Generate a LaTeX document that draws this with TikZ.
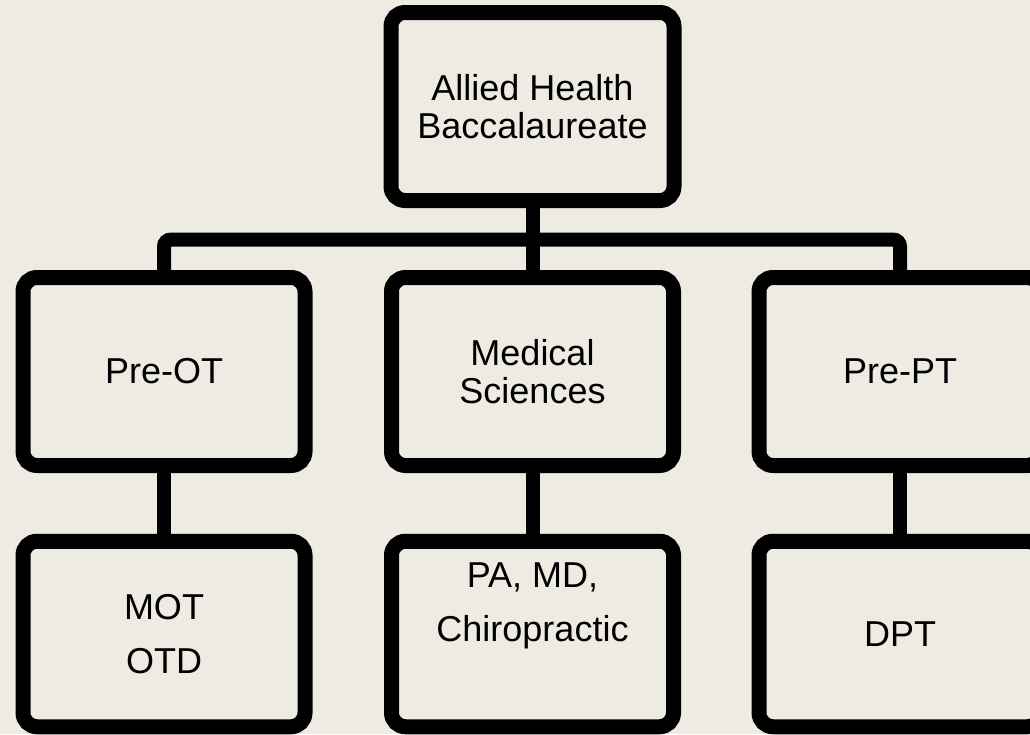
\documentclass[tikz,border=0pt]{standalone}
\usepackage{fontspec}
\setmainfont{Liberation Sans}
\definecolor{bg}{RGB}{238,235,227}
\begin{document}
\begin{tikzpicture}[x=1pt,y=-1pt,
  box/.style={draw=black, fill=bg, line width=15pt, rounded corners=14pt,
    minimum width=282pt, minimum height=188pt, inner sep=0pt, align=center,
    font=\fontsize{36}{37.5}\selectfont},
  lowbox/.style={box, minimum height=185.5pt},
  lbl/.style={inner sep=0pt, align=center, font=\fontsize{36}{54}\selectfont},
  conn/.style={draw=black, line width=14pt, rounded corners=7pt}]
\useasboundingbox (0,0) rectangle (1030,734);
\clip (0,0) rectangle (1030,734);
\fill[bg] (0,0) rectangle (1030,734);
\coordinate (bar) at (532.5,239.5);
\node[box, minimum width=283pt] (ah) at (532.5,106.5) {Allied Health\\Baccalaureate};
\node[box] (pot) at (164,371.5) {Pre-OT};
\node[box] (med) at (532.5,371.5) {Medical\\Sciences};
\node[box] (ppt) at (900,371.5) {Pre-PT};
\node[lowbox] (mot) at (164,634) {};
\node[lowbox] (pmd) at (532.5,634) {};
\node[lowbox] (dpt) at (900,634) {DPT};
\node[lbl] (motl) at (164,634) {MOT\\OTD};
\node[lbl] (pmdl) at ([yshift=28pt]pmd.center) {PA, MD,\\Chiropractic};
\draw[conn] (ah.south) -- (med.north);
\draw[conn] (pot.north) |- (bar) -| (ppt.north);
\draw[conn] (pot.south) -- (mot.north);
\draw[conn] (med.south) -- (pmd.north);
\draw[conn] (ppt.south) -- (dpt.north);
\end{tikzpicture}
\end{document}
